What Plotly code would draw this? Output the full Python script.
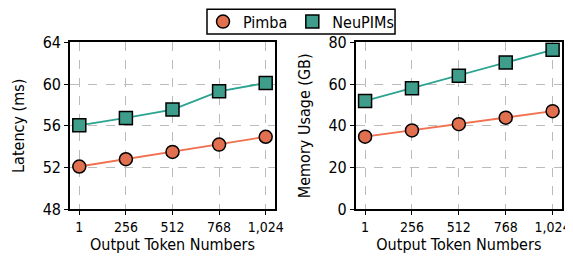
import plotly.graph_objects as go

tokens = ["1", "256", "512", "768", "1,024"]
lat_pimba = [52.1, 52.8, 53.5, 54.2, 54.95]
lat_neupims = [56.05, 56.75, 57.55, 59.3, 60.1]
mem_pimba = [34.8, 37.8, 40.8, 43.9, 47.0]
mem_neupims = [51.9, 58.0, 64.0, 70.3, 76.4]
series_names = ["Pimba", "NeuPIMs"]

c_pimba_fill = "#E07050"
c_pimba_line = "#F07050"
c_neu_fill = "#3E9E8B"
c_neu_line = "#2AA390"

xi = list(range(len(tokens)))
fig = go.Figure()

def add(x, y, name, fill, line, symbol, xa, ya):
    fig.add_trace(go.Scatter(
        x=x, y=y, name=name, mode="lines+markers", xaxis=xa, yaxis=ya,
        showlegend=False,
        line=dict(color=line, width=1.8),
        marker=dict(symbol=symbol, size=13, color=fill, line=dict(color="black", width=1.5)),
    ))

add(xi, lat_pimba, series_names[0], c_pimba_fill, c_pimba_line, "circle", "x", "y")
add(xi, lat_neupims, series_names[1], c_neu_fill, c_neu_line, "square", "x", "y")
add(xi, mem_pimba, series_names[0], c_pimba_fill, c_pimba_line, "circle", "x2", "y2")
add(xi, mem_neupims, series_names[1], c_neu_fill, c_neu_line, "square", "x2", "y2")

# legend entries (markers only)
for name, fill, symbol in [(series_names[0], c_pimba_fill, "circle"), (series_names[1], c_neu_fill, "square")]:
    fig.add_trace(go.Scatter(
        x=[None], y=[None], name=name, mode="markers", showlegend=True,
        marker=dict(symbol=symbol, size=13, color=fill, line=dict(color="black", width=1.5)),
    ))

fam = "DejaVu Sans Condensed, Liberation Sans, sans-serif"
font = dict(family=fam, size=16, color="black")
tickfont = dict(family=fam, size=16, color="black")
xtickfont = dict(family=fam, size=14, color="black")

common_x = dict(
    tickmode="array", tickvals=xi, ticktext=tokens, range=[-0.2, 4.2],
    showline=True, linecolor="black", linewidth=1.5, mirror=True,
    ticks="outside", ticklen=4, tickwidth=1.2, tickcolor="black",
    showgrid=True, gridcolor="#BBBBBB", griddash="dash", gridwidth=1,
    zeroline=False, tickfont=xtickfont, ticklabeloverflow="allow",
    title=dict(text="Output Token Numbers", font=font, standoff=5),
)
common_y = dict(
    showline=True, linecolor="black", linewidth=1.5, mirror=True,
    ticks="outside", ticklen=4, tickwidth=1.2, tickcolor="black",
    showgrid=True, gridcolor="#BBBBBB", griddash="dash", gridwidth=1,
    zeroline=False, tickfont=tickfont,
)

# page body adds an 8px offset; figure sized to the visible area
fig.update_layout(
    width=565, height=252,
    margin=dict(l=0, r=0, t=0, b=0, autoexpand=False),
    paper_bgcolor="white", plot_bgcolor="white",
    font=font,
    xaxis=dict(domain=[0.1097, 0.4726], anchor="y", **common_x),
    xaxis2=dict(domain=[0.6154, 0.9805], anchor="y2", **common_x),
    yaxis=dict(domain=[0.2012, 0.8639], anchor="x", range=[48, 64],
               tickvals=[48, 52, 56, 60, 64],
               title=dict(text="Latency (ms)", font=font, standoff=14), **common_y),
    yaxis2=dict(domain=[0.2012, 0.8639], anchor="x2", range=[0, 80],
                tickvals=[0, 20, 40, 60, 80],
                title=dict(text="Memory Usage (GB)", font=font, standoff=14), **common_y),
    legend=dict(
        orientation="h", x=0.5186, y=0.9456, xanchor="center", yanchor="middle",
        borderwidth=0, bgcolor="rgba(0,0,0,0)",
        font=font, tracegroupgap=0, itemwidth=30,
    ),
    shapes=[dict(type="rect", xref="paper", yref="paper",
                 x0=0.3522, x1=0.6850, y0=0.8968, y1=0.9948,
                 line=dict(color="black", width=1.5), fillcolor="white", layer="below")],
)

fig.write_html("out.html")
